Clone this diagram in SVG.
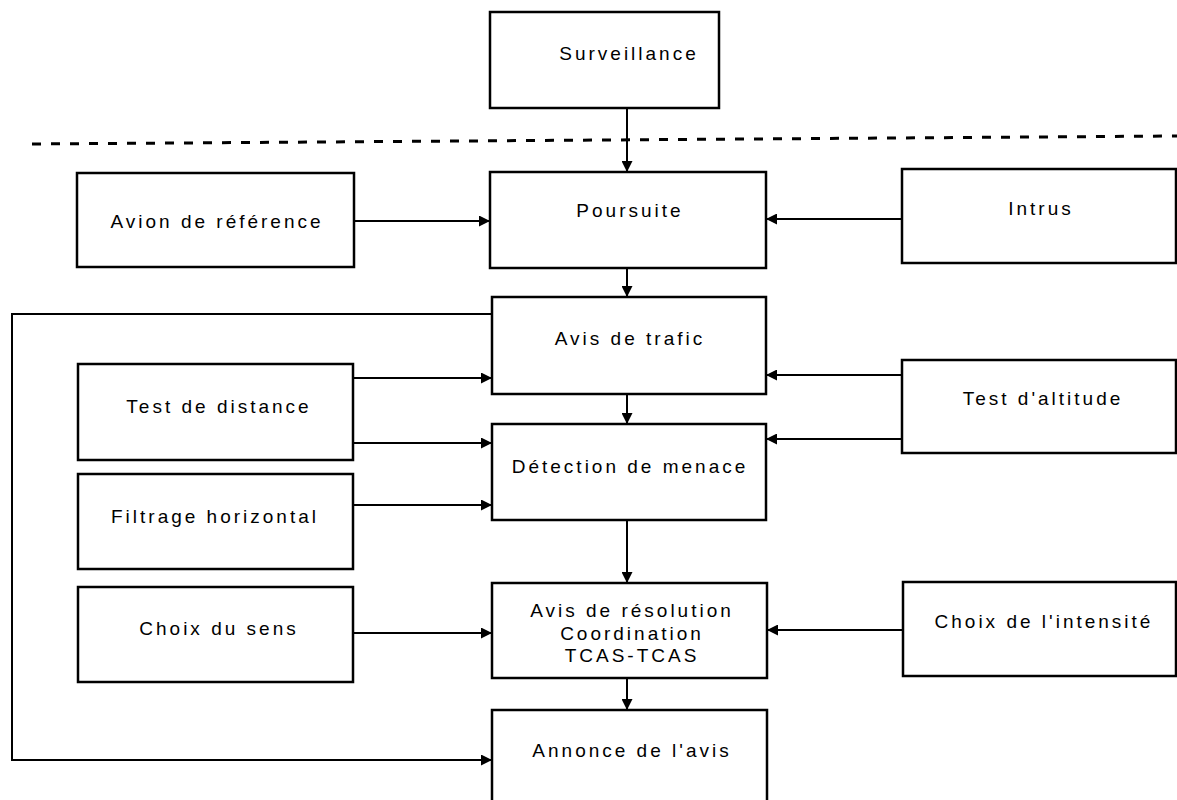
<svg xmlns="http://www.w3.org/2000/svg" width="1177" height="800" viewBox="0 0 1177 800">
<defs>
<style>
.box{fill:#fff;stroke:#000;stroke-width:2.5}
.lbl{font-family:"Liberation Sans",Arial,sans-serif;font-size:19px;letter-spacing:3px;fill:#000;text-anchor:middle}
.con{fill:none;stroke:#000;stroke-width:2}
</style>
<marker id="arr" viewBox="0 0 10 10" refX="10" refY="5" markerWidth="13" markerHeight="11" markerUnits="userSpaceOnUse" orient="auto">
<path d="M0,0 L10,5 L0,10 Z" fill="#000"/>
</marker>
</defs>
<rect width="1177" height="800" fill="#fff"/>
<line x1="32" y1="144" x2="1177" y2="136" stroke="#000" stroke-width="3" stroke-dasharray="9,10"/>
<g id="connectors">
<line class="con" x1="627" y1="108" x2="627" y2="172" marker-end="url(#arr)"/>
<line class="con" x1="354" y1="221" x2="490" y2="221" marker-end="url(#arr)"/>
<line class="con" x1="902" y1="219" x2="766" y2="219" marker-end="url(#arr)"/>
<line class="con" x1="627" y1="268" x2="627" y2="297" marker-end="url(#arr)"/>
<polyline class="con" points="492,314 12,314 12,760 492,760" marker-end="url(#arr)"/>
<line class="con" x1="353" y1="378" x2="492" y2="378" marker-end="url(#arr)"/>
<line class="con" x1="353" y1="443" x2="492" y2="443" marker-end="url(#arr)"/>
<line class="con" x1="902" y1="375" x2="766" y2="375" marker-end="url(#arr)"/>
<line class="con" x1="902" y1="439" x2="766" y2="439" marker-end="url(#arr)"/>
<line class="con" x1="627" y1="394" x2="627" y2="424" marker-end="url(#arr)"/>
<line class="con" x1="353" y1="505" x2="492" y2="505" marker-end="url(#arr)"/>
<line class="con" x1="627" y1="520" x2="627" y2="583" marker-end="url(#arr)"/>
<line class="con" x1="353" y1="633" x2="492" y2="633" marker-end="url(#arr)"/>
<line class="con" x1="903" y1="630" x2="767" y2="630" marker-end="url(#arr)"/>
<line class="con" x1="627" y1="678" x2="627" y2="710" marker-end="url(#arr)"/>
</g>
<g id="surveillance"><rect class="box" x="490" y="12" width="229" height="96"/><text class="lbl" x="629" y="60">Surveillance</text></g>
<g id="avion"><rect class="box" x="77" y="173" width="277" height="94"/><text class="lbl" x="217" y="228">Avion de référence</text></g>
<g id="poursuite"><rect class="box" x="490" y="172" width="276" height="96"/><text class="lbl" x="630" y="217">Poursuite</text></g>
<g id="intrus"><rect class="box" x="902" y="169" width="274" height="94"/><text class="lbl" x="1041" y="215">Intrus</text></g>
<g id="avis-trafic"><rect class="box" x="492" y="297" width="274" height="97"/><text class="lbl" x="630" y="345">Avis de trafic</text></g>
<g id="test-distance"><rect class="box" x="78" y="364" width="275" height="96"/><text class="lbl" x="219" y="413">Test de distance</text></g>
<g id="test-altitude"><rect class="box" x="902" y="360" width="274" height="93"/><text class="lbl" x="1043" y="405">Test d'altitude</text></g>
<g id="detection"><rect class="box" x="492" y="424" width="274" height="96"/><text class="lbl" x="630" y="473">Détection de menace</text></g>
<g id="filtrage"><rect class="box" x="78" y="474" width="275" height="95"/><text class="lbl" x="215" y="523">Filtrage horizontal</text></g>
<g id="choix-sens"><rect class="box" x="78" y="587" width="275" height="95"/><text class="lbl" x="219" y="635">Choix du sens</text></g>
<g id="resolution"><rect class="box" x="492" y="583" width="275" height="95"/><text class="lbl" x="632" y="617">Avis de résolution</text><text class="lbl" x="632" y="640">Coordination</text><text class="lbl" x="632" y="662">TCAS-TCAS</text></g>
<g id="choix-intensite"><rect class="box" x="903" y="582" width="273" height="94"/><text class="lbl" x="1044" y="628">Choix de l'intensité</text></g>
<g id="annonce"><rect class="box" x="492" y="710" width="275" height="100"/><text class="lbl" x="632" y="757">Annonce de l'avis</text></g>
</svg>
